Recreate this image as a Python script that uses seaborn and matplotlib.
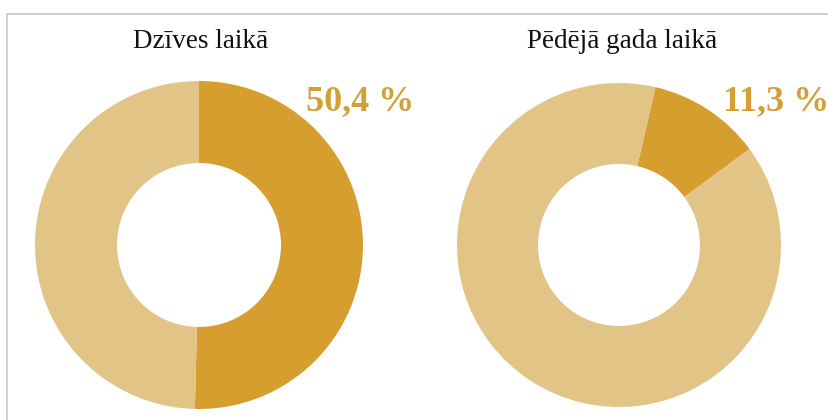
import seaborn as sns
import matplotlib.pyplot as plt
from matplotlib.lines import Line2D

# data
titles = ["Dzīves laikā", "Pēdējā gada laikā"]
shares = [50.4, 11.3]
labels = ["50,4 %", "11,3 %"]
start_angles = [90, 77]

dark = "#D69E2E"
light = "#E2C487"
text_gold = "#D4A035"

sns.set_theme(style="white")
plt.rcParams['font.family'] = ['Liberation Serif', 'DejaVu Serif']

W, H = 829, 420
fig = plt.figure(figsize=(W / 100, H / 100), dpi=100)

def px(x, y):
    # pixel coords from top-left -> figure fraction
    return x / W, 1 - y / H

# donut centres / radii in pixels
centres = [(199, 245, 164), (619, 245, 162)]
title_pos = [(201, 48), (622, 48)]
label_pos = [(360, 110), (776, 110)]

for i, share in enumerate(shares):
    cx, cy, r = centres[i]
    ax = fig.add_axes([(cx - r) / W, (H - cy - r) / H, 2 * r / W, 2 * r / H])
    ax.pie([share, 100 - share], colors=[dark, light], startangle=start_angles[i],
           counterclock=False, radius=1,
           wedgeprops=dict(width=0.5, linewidth=0))
    ax.set_xlim(-1, 1)
    ax.set_ylim(-1, 1)
    ax.axis("off")

    tx, ty = px(*title_pos[i])
    fig.text(tx, ty, titles[i], ha="center", va="baseline", fontsize=19.5, color="#111111")
    lx, ly = px(*label_pos[i])
    fig.text(lx, ly, labels[i], ha="center", va="baseline", fontsize=26,
             fontweight="bold", color=text_gold)

# frame lines (top and left)
fig.add_artist(Line2D([7 / W, 1], [1 - 14 / H, 1 - 14 / H], color="#C8C8C8", lw=1.2))
fig.add_artist(Line2D([7 / W, 7 / W], [0, 1 - 14 / H], color="#C8C8C8", lw=1.2))

fig.savefig("out.png", dpi=100)
